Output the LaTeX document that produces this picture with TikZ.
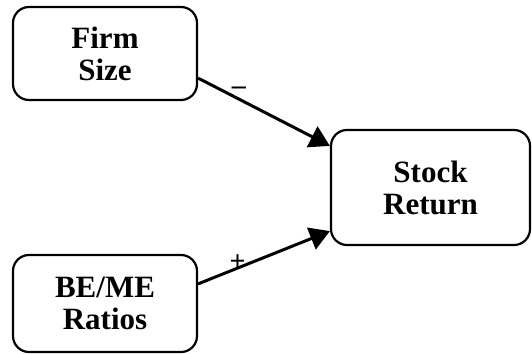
\documentclass[tikz,border=0pt]{standalone}
\usepackage{fontspec}
\setmainfont{Liberation Serif}
\usetikzlibrary{arrows.meta,calc}

\tikzset{
  factor/.style={draw, line width=2.2pt, rounded corners=16pt, align=center,
    inner sep=0pt, font=\fontsize{31}{32}\selectfont\bfseries},
  link/.style={line width=3pt, -{Triangle[length=20pt,width=23pt]}},
  sign/.style={inner sep=0pt, font=\fontsize{28}{28}\selectfont\bfseries}
}

\begin{document}
\begin{tikzpicture}[x=1pt,y=1pt]
  \useasboundingbox (0,0) rectangle (532,353);

  % the three factor boxes
  \node[factor, minimum width=184pt, minimum height=93pt] (firm) at (105,299.5) {Firm\\Size};
  \node[factor, minimum width=199pt, minimum height=115pt] (stock) at (430.5,165.5) {Stock\\Return};
  \node[factor, minimum width=184pt, minimum height=97pt] (beme) at (105,49.5) {BE/ME\\Ratios};

  % where the links leave and meet the boxes
  \coordinate (firmout) at ($(firm.south east)+(0,23)$);
  \coordinate (bemeout) at ($(beme.north east)+(0,-30)$);
  \coordinate (stockin1) at ($(stock.north west)+(0,-17)$);
  \coordinate (stockin2) at ($(stock.south west)+(0,15)$);

  % signed effects on the stock return
  \draw[link] (firmout) -- node[sign, pos=0.31, yshift=8pt] {–} (stockin1);
  \draw[link] (bemeout) -- node[sign, pos=0.30, yshift=5pt] {+} (stockin2);
\end{tikzpicture}
\end{document}
